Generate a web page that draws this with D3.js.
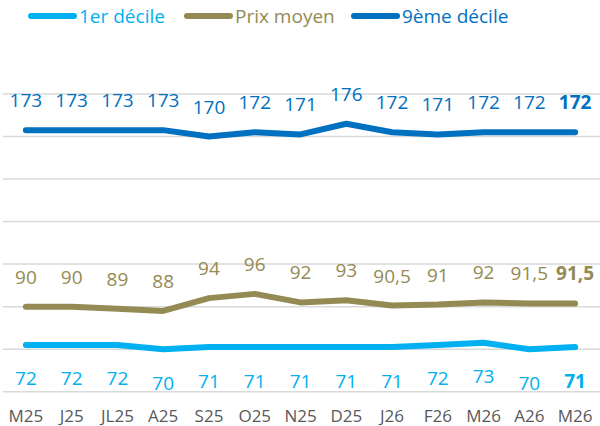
<!DOCTYPE html>
<html>
<head>
<meta charset="utf-8">
<script src="https://cdn.jsdelivr.net/npm/d3@7"></script>
<style>
  html, body { margin: 0; padding: 0; background: #fff; }
  svg { display: block; font-family: "Open Sans", sans-serif; }
</style>
</head>
<body>
<div id="chart"></div>
<script>
// months shown on the x axis
const months = ["M25", "J25", "JL25", "A25", "S25", "O25", "N25", "D25", "J26", "F26", "M26", "A26", "M26"];

// series values
const decile1 = [72, 72, 72, 70, 71, 71, 71, 71, 71, 72, 73, 70, 71];
const prixMoyen = [90, 90, 89, 88, 94, 96, 92, 93, 90.5, 91, 92, 91.5, 91.5];
const decile9 = [173, 173, 173, 173, 170, 172, 171, 176, 172, 171, 172, 172, 172];

const yTicks = [50, 70, 90, 110, 130, 150, 170, 190];

const width = 600, height = 426;

const series = [
  { name: "1er décile", values: decile1, color: "#00B0F0", below: true },
  { name: "Prix moyen", values: prixMoyen, color: "#948A54", below: false },
  { name: "9ème décile", values: decile9, color: "#0070C0", below: false }
];

const svg = d3.select("#chart")
  .append("svg")
  .attr("width", width)
  .attr("height", height);

const x = d3.scaleBand()
  .domain(d3.range(months.length))
  .range([3, 598]);

const y = d3.scaleLinear()
  .domain([50, 190])
  .range([391.7, 94]);

const cx = i => x(i) + x.bandwidth() / 2;

// gridlines
svg.append("g")
  .selectAll("line")
  .data(yTicks)
  .join("line")
  .attr("x1", 3)
  .attr("x2", 600)
  .attr("y1", d => y(d))
  .attr("y2", d => y(d))
  .attr("stroke", "#D9D9D9")
  .attr("stroke-width", 1.5);

// x axis labels
const xAxis = svg.append("g")
  .attr("transform", "translate(0," + y(50) + ")")
  .call(d3.axisBottom(x).tickSize(0).tickPadding(0).tickFormat(i => months[i]));
xAxis.select(".domain").remove();
xAxis.selectAll("text")
  .attr("y", 30)
  .attr("dy", null)
  .attr("fill", "#595959")
  .attr("font-size", 17)
  .attr("font-family", "Open Sans, sans-serif");

const line = d3.line()
  .x((d, i) => cx(i))
  .y(d => y(d));

series.forEach(s => {
  svg.append("path")
    .datum(s.values)
    .attr("d", line)
    .attr("fill", "none")
    .attr("stroke", s.color)
    .attr("stroke-width", 6)
    .attr("stroke-linecap", "round")
    .attr("stroke-linejoin", "round");

  svg.append("g")
    .selectAll("text")
    .data(s.values)
    .join("text")
    .attr("x", (d, i) => cx(i))
    .attr("y", d => s.below ? y(d) + 40.5 : y(d) - 23)
    .attr("text-anchor", "middle")
    .attr("fill", s.color)
    .attr("font-size", 19)
    .attr("font-weight", (d, i) => i === s.values.length - 1 ? "bold" : "normal")
    .text(d => String(d).replace(".", ","));
});

// legend
const legendX = [28, 184, 351];
const legend = svg.append("g")
  .selectAll("g")
  .data(series)
  .join("g")
  .attr("transform", (d, i) => "translate(" + legendX[i] + ",16)");

legend.append("line")
  .attr("x1", 3)
  .attr("x2", 46)
  .attr("stroke", d => d.color)
  .attr("stroke-width", 6)
  .attr("stroke-linecap", "round");

legend.append("text")
  .attr("x", 51)
  .attr("y", 7)
  .attr("fill", d => d.color)
  .attr("font-size", 19)
  .text(d => d.name);
</script>
</body>
</html>
